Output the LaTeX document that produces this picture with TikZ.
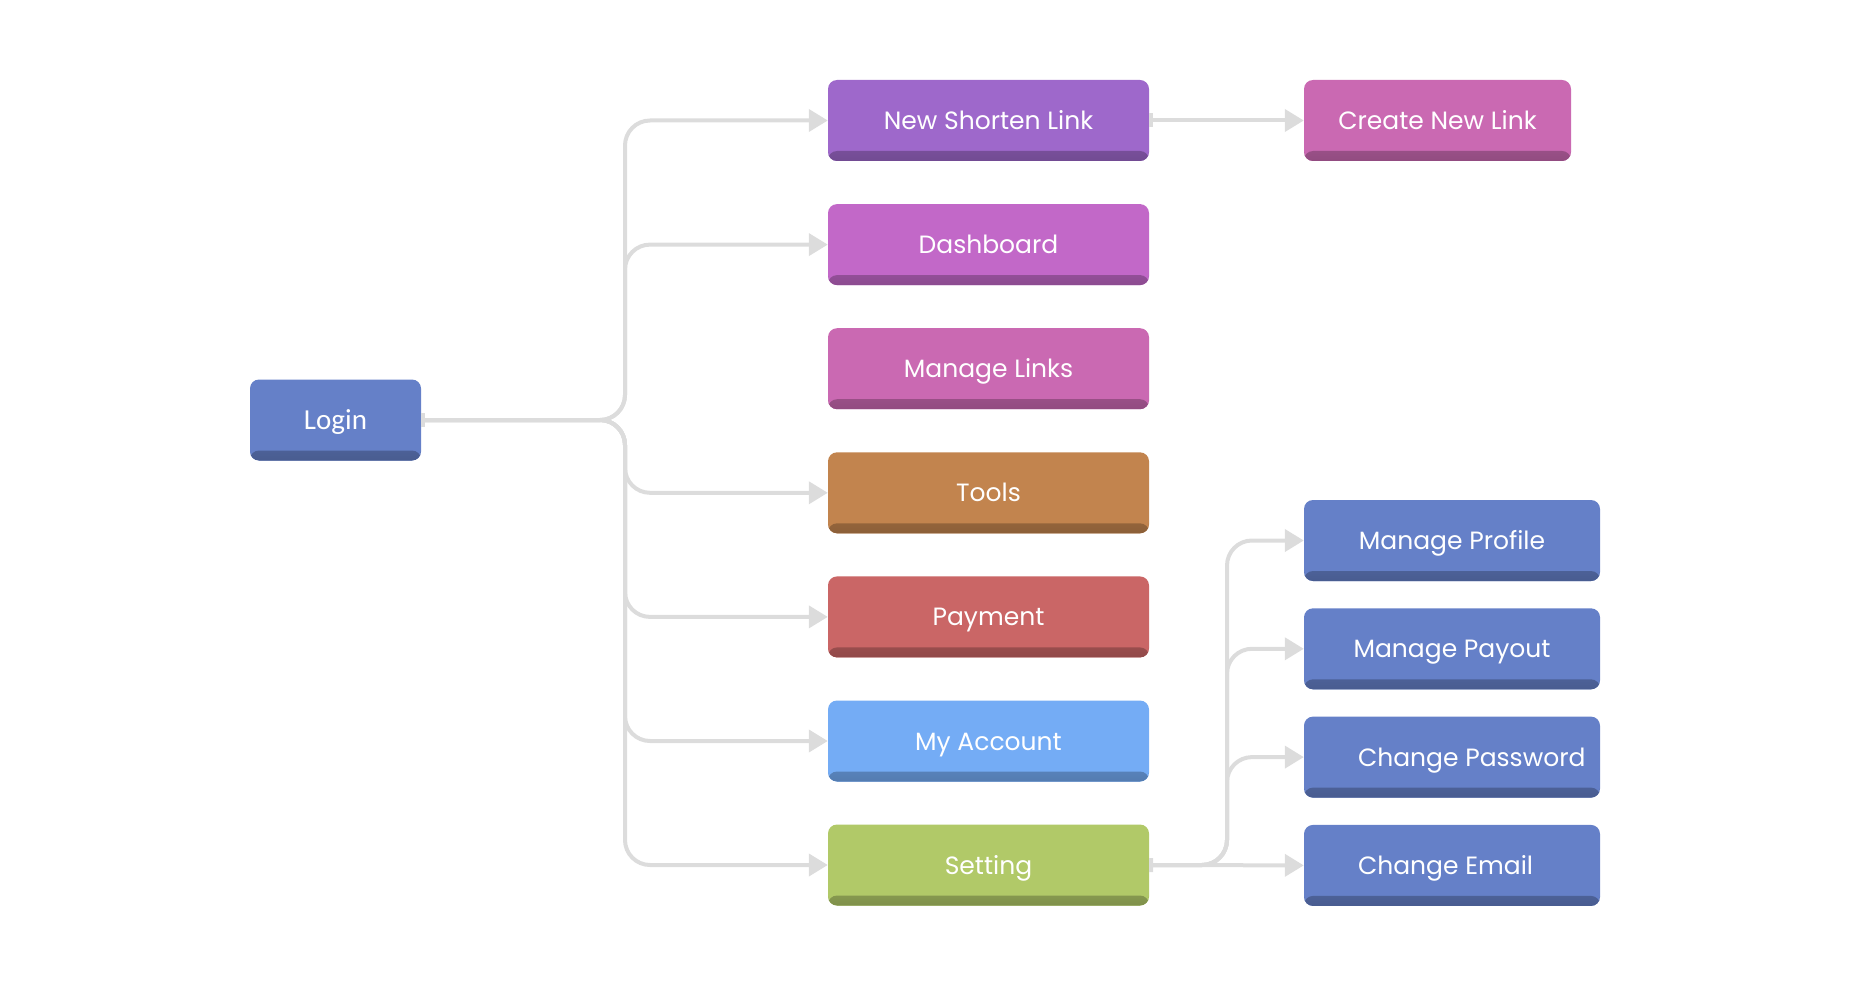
\documentclass[tikz,border=0pt]{standalone}
\usepackage{fontspec}
\setmainfont{Poppins}
\newfontfamily\loginfont{Carlito}
\usetikzlibrary{arrows.meta}

\definecolor{rowblue}{HTML}{6580C8}
\definecolor{shortpurple}{HTML}{9E68CB}
\definecolor{dashviolet}{HTML}{C268C8}
\definecolor{linkpink}{HTML}{CA69B2}
\definecolor{toolbrown}{HTML}{C2844E}
\definecolor{payred}{HTML}{CA6666}
\definecolor{acctsky}{HTML}{74ACF5}
\definecolor{setgreen}{HTML}{B1C968}
\definecolor{linkgray}{HTML}{DCDCDC}

\tikzset{
    box/.style={rounded corners=9pt, inner sep=0pt, minimum height=81pt,
        text=white, font=\fontsize{25}{30}\selectfont, text height=18pt, text depth=0pt,
        fill=#1,
        path picture={\shade[top color=#1, bottom color=#1!72!black]
            ([yshift=10pt]path picture bounding box.south west) rectangle
            (path picture bounding box.south east);}},
    link/.style={draw=linkgray, line width=4pt, rounded corners=25pt,
        {Bar[width=14pt]}-{Triangle[length=19pt,width=22pt]}}
}
\newcommand{\leftlbl}[1]{\makebox[188pt][l]{#1}}

\begin{document}
\begin{tikzpicture}[x=1pt,y=-1pt]
    \useasboundingbox (0,0) rectangle (1850,987);

    \node[box=rowblue, minimum width=171pt, font=\loginfont\fontsize{29}{34}\selectfont] (login) at (335.5,420) {Login};

    \begin{scope}[every node/.append style={minimum width=321pt}]
        \node[box=shortpurple] (nsl) at (988.5,120.5) {New Shorten Link};
        \node[box=dashviolet] (dash) at (988.5,244.6) {Dashboard};
        \node[box=linkpink] (manage) at (988.5,368.7) {Manage Links};
        \node[box=toolbrown] (tools) at (988.5,492.8) {Tools};
        \node[box=payred] (pay) at (988.5,616.9) {Payment};
        \node[box=acctsky] (acct) at (988.5,741) {My Account};
        \node[box=setgreen] (set) at (988.5,865) {Setting};
    \end{scope}

    \node[box=linkpink, minimum width=267pt] (create) at (1437.5,120.5) {Create New Link};

    \begin{scope}[every node/.append style={minimum width=296pt}]
        \node[box=rowblue] (profile) at (1452,540.5) {Manage Profile};
        \node[box=rowblue] (payout) at (1452,648.8) {Manage Payout};
        \node[box=rowblue] (passwd) at (1452,757.1) {\leftlbl{Change Password}};
        \node[box=rowblue] (email) at (1452,865.4) {\leftlbl{Change Email}};
    \end{scope}

    \coordinate (trunk) at (625,420);
    \coordinate (subtrunk) at (1227,865);

    \foreach \n in {nsl,dash,tools,pay,acct,set}
        \draw[link] (login.east) -| (trunk |- \n.west) -- (\n.west);
    \draw[link] (nsl.east) -- (create.west);
    \foreach \n in {profile,payout,passwd}
        \draw[link] (set.east) -| (subtrunk |- \n.west) -- (\n.west);
    \draw[link] (set.east) -- (email.west);
\end{tikzpicture}
\end{document}
